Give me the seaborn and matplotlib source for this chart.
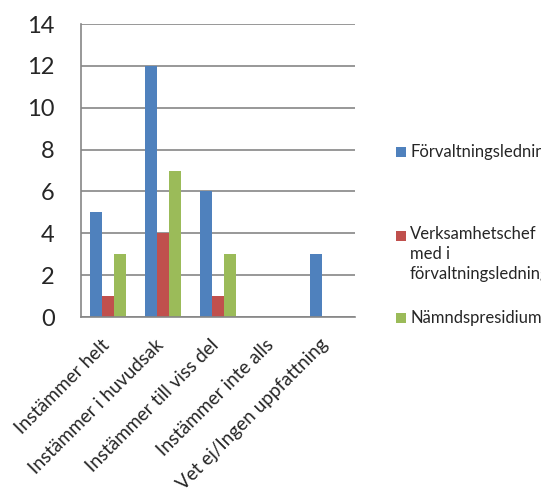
import matplotlib
matplotlib.use("Agg")
import matplotlib.pyplot as plt
import matplotlib.transforms as mtransforms
import seaborn as sns
import pandas as pd
from matplotlib.patches import Rectangle

categories = [
    "Instämmer helt",
    "Instämmer i huvudsak",
    "Instämmer till viss del",
    "Instämmer inte alls",
    "Vet ej/Ingen uppfattning",
]
series_names = [
    "Förvaltningsledning",
    "Verksamhetschef med i förvaltningsledning",
    "Nämndspresidium",
]
forvaltningsledning = [5, 12, 6, 0, 3]
verksamhetschef = [1, 4, 1, 0, 0]
namndspresidium = [3, 7, 3, 0, 0]
yticks = [0, 2, 4, 6, 8, 10, 12, 14]

colors = ["#4F81BD", "#C0504D", "#9BBB59"]
legend_lines = [
    "Förvaltningsledning",
    "Verksamhetschef\nmed i\nförvaltningsledning",
    "Nämndspresidium",
]

rows = []
for name, vals in zip(series_names, [forvaltningsledning, verksamhetschef, namndspresidium]):
    for cat, v in zip(categories, vals):
        rows.append({"Kategori": cat, "Grupp": name, "Antal": v})
df = pd.DataFrame(rows)

sns.set_style("white")
plt.rcParams["font.family"] = ["Lato", "DejaVu Sans"]

fig = plt.figure(figsize=(5.41, 4.94), dpi=100)
ax = fig.add_axes([81 / 541, 1 - 317 / 494, 274 / 541, 293 / 494])

sns.barplot(
    data=df, x="Kategori", y="Antal", hue="Grupp",
    order=categories, hue_order=series_names,
    palette=colors, width=0.657, saturation=1, ax=ax,
    edgecolor="none", linewidth=0, legend=False,
)

ax.set_ylim(0, 14)
ax.set_xlim(-0.5, len(categories) - 0.5)
ax.set_yticks(yticks)
ax.set_yticklabels([str(t) for t in yticks], fontsize=17)
ax.yaxis.grid(True, color="#868686", linewidth=1.2)
ax.set_axisbelow(True)
ax.set_xlabel("")
ax.set_ylabel("")
ax.tick_params(axis="y", length=0, pad=19)
ax.tick_params(axis="x", length=0, pad=0)
ax.set_xticks(range(len(categories)))
ax.set_xticklabels(categories, rotation=45, ha="right", va="center",
                   rotation_mode="anchor", fontsize=13.6)
shift = mtransforms.ScaledTranslation(-2 / 100, -25 / 100, fig.dpi_scale_trans)
for lbl in ax.get_xticklabels():
    lbl.set_transform(lbl.get_transform() + shift)

for side in ["top", "right"]:
    ax.spines[side].set_visible(False)
for side in ["left", "bottom"]:
    ax.spines[side].set_color("#868686")
    ax.spines[side].set_linewidth(1.2)

# Legend drawn by hand to the right of the plot area
legend_y = [152, 236, 318]
for color, text, y in zip(colors, legend_lines, legend_y):
    fig.patches.append(Rectangle((396 / 541, 1 - (y + 5) / 494), 10 / 541, 10 / 494,
                                 transform=fig.transFigure, facecolor=color, edgecolor="none"))
    if "\n" in text:
        fig.text(410 / 541, 1 - (y - 10) / 494, text, fontsize=12, va="top",
                 ha="left", linespacing=1.3)
    else:
        fig.text(410 / 541, 1 - y / 494, text, fontsize=12, va="center", ha="left")

fig.savefig("out.png", dpi=100)
